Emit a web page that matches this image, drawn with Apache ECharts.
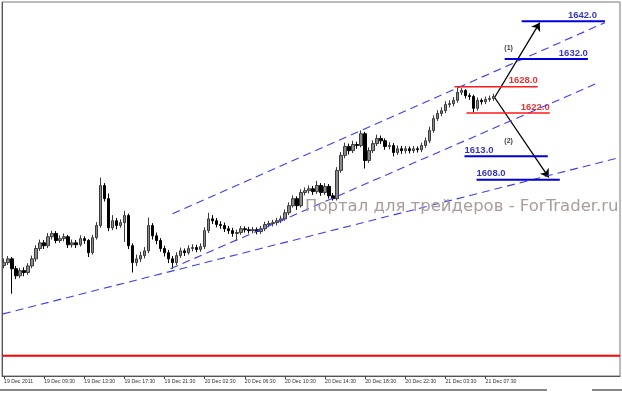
<!DOCTYPE html>
<html><head><meta charset="utf-8">
<script src="https://cdn.jsdelivr.net/npm/echarts@6/dist/echarts.min.js"></script>
<style>html,body{margin:0;padding:0;background:#fff}#c{width:622px;height:393px}</style>
</head><body><div id="c"></div>
<script>
// ---- data ----
const tickLabels = ['19 Dec 2011','19 Dec 09:30','19 Dec 13:30','19 Dec 17:30','19 Dec 21:30','20 Dec 02:30','20 Dec 06:30','20 Dec 10:30','20 Dec 14:30','20 Dec 18:30','20 Dec 22:30','21 Dec 03:30','21 Dec 07:30'];
const barsPerLabel = 10;
const slotCount = 154;

const opens = [1589.5,1590.1,1590.9,1588.8,1587.3,1588.4,1588.0,1589.4,1590.9,1593.1,
1594.3,1593.7,1595.6,1596.3,1594.8,1595.2,1595.6,1593.9,1594.3,1593.9,
1595.2,1594.8,1592.2,1595.4,1598.0,1606.5,1603.7,1597.5,1599.0,1598.0,
1598.6,1600.1,1593.7,1590.1,1590.9,1591.6,1592.6,1598.0,1595.8,1594.8,
1593.1,1592.2,1590.9,1590.1,1591.6,1592.6,1592.2,1593.1,1593.3,1592.9,
1593.5,1596.9,1599.4,1599.0,1598.2,1598.0,1597.3,1596.9,1596.3,1596.5,
1597.3,1597.1,1596.9,1597.1,1596.7,1597.3,1598.2,1598.4,1598.6,1599.0,
1599.4,1600.7,1602.2,1603.7,1602.2,1605.0,1605.4,1605.8,1605.2,1606.5,
1605.0,1606.3,1604.3,1603.7,1609.7,1612.9,1614.8,1613.9,1615.2,1615.0,
1617.5,1611.8,1613.9,1615.4,1616.5,1616.0,1614.8,1615.0,1613.5,1614.3,
1613.9,1614.3,1613.9,1614.3,1614.1,1615.0,1616.0,1618.2,1620.7,1621.8,
1622.4,1623.7,1623.9,1624.6,1626.3,1626.7,1625.6,1625.4,1622.9,1624.6,
1624.3,1624.8,1625.0];
const closes = [1590.1,1590.9,1588.8,1587.3,1588.4,1588.0,1589.4,1590.9,1593.1,1594.3,
1593.7,1595.6,1596.3,1594.8,1595.2,1595.6,1593.9,1594.3,1593.9,1595.2,
1594.8,1592.2,1595.4,1598.0,1606.5,1603.7,1597.5,1599.0,1598.0,1598.6,
1600.1,1593.7,1590.1,1590.9,1591.6,1592.6,1598.0,1595.8,1594.8,1593.1,
1592.2,1590.9,1590.1,1591.6,1592.6,1592.2,1593.1,1593.3,1592.9,1593.5,
1596.9,1599.4,1599.0,1598.2,1598.0,1597.3,1596.9,1596.3,1596.5,1597.3,
1597.1,1596.9,1597.1,1596.7,1597.3,1598.2,1598.4,1598.6,1599.0,1599.4,
1600.7,1602.2,1603.7,1602.2,1605.0,1605.4,1605.8,1605.2,1606.5,1605.0,
1606.3,1604.3,1603.7,1609.7,1612.9,1614.8,1613.9,1615.2,1615.0,1617.5,
1611.8,1613.9,1615.4,1616.5,1616.0,1614.8,1615.0,1613.5,1614.3,1613.9,
1614.3,1613.9,1614.3,1614.1,1615.0,1616.0,1618.2,1620.7,1621.8,1622.4,
1623.7,1623.9,1624.6,1626.3,1626.7,1625.6,1625.4,1622.9,1624.6,1624.3,
1624.8,1625.0,1625.4];
const lows = [1588.9,1589.6,1583.5,1586.6,1586.8,1587.2,1587.5,1588.9,1590.3,1592.6,
1593.0,1593.2,1595.0,1594.2,1594.3,1594.6,1593.2,1593.3,1593.2,1593.5,
1594.1,1591.3,1591.8,1595.0,1597.5,1603.1,1596.8,1597.0,1597.2,1597.5,
1594.5,1593.0,1588.0,1589.4,1590.2,1591.0,1592.1,1595.0,1594.0,1592.4,
1591.4,1590.0,1588.8,1589.6,1591.1,1591.5,1591.8,1592.5,1592.3,1592.4,
1593.0,1596.4,1598.3,1597.6,1597.3,1596.6,1596.2,1595.6,1594.8,1596.0,
1596.5,1596.3,1596.3,1596.1,1596.2,1596.8,1597.6,1597.8,1598.0,1598.5,
1599.0,1600.2,1601.8,1601.3,1601.8,1604.4,1604.8,1604.5,1604.7,1604.3,
1604.5,1603.7,1603.3,1603.3,1609.2,1612.3,1613.1,1613.4,1614.3,1614.6,
1610.1,1611.3,1613.4,1614.9,1615.3,1614.1,1614.2,1612.7,1613.0,1613.2,
1613.3,1613.3,1613.4,1613.5,1613.6,1614.5,1615.5,1617.7,1620.2,1621.2,
1621.9,1623.1,1623.3,1624.1,1625.7,1625.0,1624.7,1622.0,1622.4,1623.7,
1623.8,1624.3,1624.5];
const highs = [1591.0,1591.5,1591.3,1589.4,1589.0,1589.1,1590.0,1591.6,1593.8,1595.0,
1594.9,1596.4,1596.9,1596.8,1595.9,1596.3,1596.0,1595.0,1594.9,1595.9,
1595.7,1595.1,1596.0,1598.7,1608.2,1607.0,1604.8,1600.2,1599.6,1599.3,
1601.1,1600.5,1594.2,1591.8,1592.4,1593.4,1599.7,1598.5,1596.5,1595.3,
1593.7,1592.8,1591.5,1592.3,1593.3,1593.1,1593.8,1594.0,1593.9,1594.2,
1597.6,1600.7,1600.2,1599.6,1598.9,1598.6,1597.9,1597.5,1597.1,1597.9,
1597.8,1597.7,1597.7,1597.6,1597.9,1598.8,1599.0,1599.2,1599.6,1600.1,
1601.4,1602.9,1604.4,1604.2,1605.7,1606.1,1606.5,1606.4,1607.5,1607.0,
1607.0,1606.8,1604.9,1610.4,1613.6,1615.6,1615.4,1616.0,1615.8,1618.2,
1617.9,1614.6,1616.1,1617.3,1617.1,1616.5,1615.7,1615.5,1615.0,1614.9,
1614.9,1614.8,1614.9,1614.8,1615.6,1616.7,1619.0,1621.4,1622.5,1623.1,
1624.4,1624.6,1625.3,1627.3,1627.2,1627.0,1626.1,1625.8,1625.2,1625.0,
1625.4,1625.6,1626.0];

// channel / trend lines: [startBar, startPrice, endBar, endPrice]
const trendA = [42, 1600.5, 149.75, 1641.1];
const trendB = [41.5, 1588.8, 148.25, 1628.4];
const trendC = [-0.25, 1579.2, 153.25, 1612.4];

// target levels
const levelValues = [1641.4, 1633.4, 1627.5, 1621.9, 1612.7, 1607.7];
const levelLabels = ['1642.0', '1632.0', '1628.0', '1622.0', '1613.0', '1608.0'];
const levelStart  = [129, 124.75, 112.25, 115.25, 114.75, 117.75];
const levelEnd    = [149.75, 145.5, 133, 136, 135.5, 138.5];
const levelKind   = ['target', 'target', 'range', 'range', 'target', 'target'];

// scenario arrows
const arrowStart = [122.25, 1625.2];
const arrowEnds  = [[133.5, 1641.1], [135.75, 1608.2]];
const waveTags   = ['(1)', '(2)'];
const waveTagPos = [[125.75, 1635.8], [125.75, 1616.0]];

const baseLine = 1570.3;

// ---- chart ----
const chart = echarts.init(document.getElementById('c'));
const categories = Array.from({length: slotCount}, (_, i) => String(i));
const showTick = (idx) => idx % barsPerLabel === 0 && idx / barsPerLabel < tickLabels.length;
const candleData = opens.map((o, i) => [o, closes[i], lows[i], highs[i]]);

const series = [{
  type: 'candlestick', xAxisIndex: 0, yAxisIndex: 0, data: candleData,
  barWidth: 3,
  itemStyle: { color: '#8a8a8a', borderColor: '#3a3a3a', color0: '#000', borderColor0: '#000', borderWidth: 1 }
}];

[trendA, trendB, trendC].forEach(t => series.push({
  type: 'line', xAxisIndex: 1, yAxisIndex: 0, symbol: 'none', silent: true,
  data: [[t[0], t[1]], [t[2], t[3]]],
  lineStyle: { color: '#3d3df5', width: 1.1, type: [8, 5] }
}));

series.push({
  type: 'line', xAxisIndex: 1, yAxisIndex: 0, symbol: 'none', silent: true,
  data: [[-0.5, baseLine], [153.5, baseLine]],
  lineStyle: { color: '#ff0000', width: 2 }
});

levelValues.forEach((v, k) => {
  const col = levelKind[k] === 'range' ? '#ff1a1a' : '#0000dd';
  const atEnd = k < 4;
  series.push({
    type: 'line', xAxisIndex: 1, yAxisIndex: 0, symbol: 'none', silent: true,
    data: [[levelStart[k], v], [levelEnd[k], v]],
    lineStyle: { color: col, width: levelKind[k] === 'range' ? 1.5 : 2 }
  });
  series.push({
    type: 'scatter', xAxisIndex: 1, yAxisIndex: 0, symbolSize: 0, silent: true,
    data: [[atEnd ? levelEnd[k] : levelStart[k], v]],
    label: { show: true, position: 'top', align: atEnd ? 'right' : 'left', distance: 1,
      offset: [k === 0 ? -8 : 0, 0],
      formatter: levelLabels[k], color: levelKind[k] === 'range' ? '#d80000' : '#0000b0',
      fontFamily: 'Liberation Sans', fontWeight: 'bold', fontSize: 9.5 }
  });
});

series.push({
  type: 'lines', coordinateSystem: 'cartesian2d', xAxisIndex: 1, yAxisIndex: 0, silent: true,
  symbol: ['none', 'arrow'], symbolSize: 8,
  lineStyle: { color: '#000', width: 1.3, opacity: 1 },
  data: arrowEnds.map(e => ({ coords: [arrowStart, e] }))
});

series.push({
  type: 'scatter', xAxisIndex: 1, yAxisIndex: 0, symbolSize: 0, silent: true,
  data: waveTagPos.map((p, k) => ({ value: p, name: waveTags[k] })),
  label: { show: true, position: 'inside', formatter: '{b}', color: '#000',
    fontFamily: 'Liberation Sans', fontWeight: 'bold', fontSize: 7 }
});

chart.setOption({
  animation: false,
  backgroundColor: '#ffffff',
  grid: { left: 2, right: 2, top: 2, bottom: 17, show: true, borderColor: '#777', borderWidth: 1, backgroundColor: '#fff' },
  xAxis: [{
    type: 'category', data: categories, boundaryGap: true,
    axisLine: { show: true, lineStyle: { color: '#555', width: 1 } },
    axisTick: { show: true, alignWithLabel: true, interval: (i) => showTick(i), length: 3, lineStyle: { color: '#444' } },
    axisLabel: { show: true, interval: (i) => showTick(i), align: 'left', margin: 3,
      formatter: (v, i) => tickLabels[Math.round(Number(v) / barsPerLabel)] || '',
      fontFamily: 'Liberation Sans', fontSize: 5.2, color: '#333' },
    splitLine: { show: false }
  }, {
    type: 'value', min: -0.5, max: slotCount - 0.5, show: false
  }],
  yAxis: [{ type: 'value', min: 1566, max: 1645.5, show: false, splitLine: { show: false }, scale: true }],
  series: series,
  graphic: [
    { type: 'rect', left: 2, top: 2, shape: { width: 1, height: 374 }, style: { fill: '#555' }, z: 100 },
    { type: 'text', left: 305, top: 198, style: { text: 'Портал для трейдеров - ForTrader.ru', font: '16.5px "DejaVu Sans"', fill: '#a99c9c' }, z: 50 },
    { type: 'rect', left: 0, top: 389, shape: { width: 547, height: 2 }, style: { fill: '#888' } },
    { type: 'rect', left: 592, top: 389, shape: { width: 30, height: 2 }, style: { fill: '#888' } }
  ]
});
</script></body></html>
